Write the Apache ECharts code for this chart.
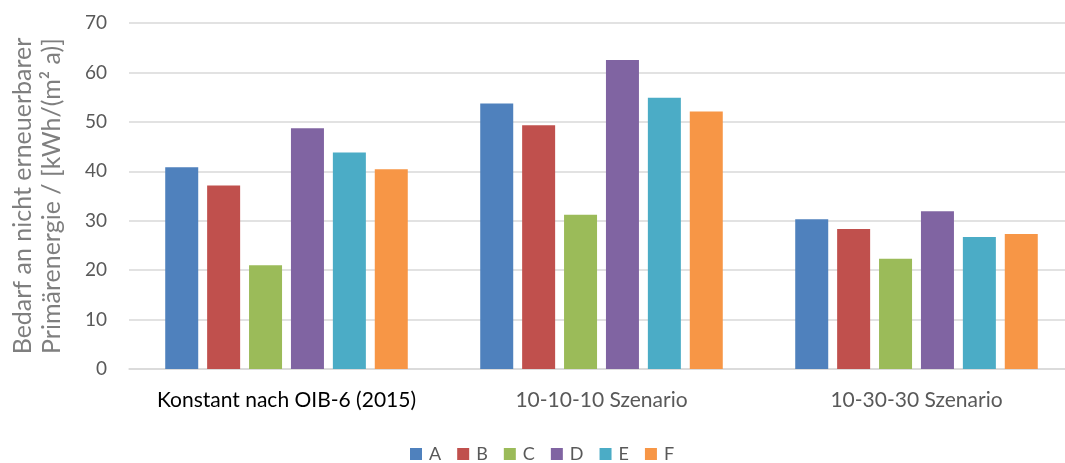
<!DOCTYPE html>
<html><head><meta charset="utf-8">
<script src="https://cdn.jsdelivr.net/npm/echarts@6/dist/echarts.min.js"></script>
<style>html,body{margin:0;padding:0;background:#fff;overflow:hidden}#c{width:1074px;height:463px}</style>
</head><body><div id="c"></div>
<script>
const categories = ["Konstant nach OIB-6 (2015)", "10-10-10 Szenario", "10-30-30 Szenario"];
const seriesNames = ["A", "B", "C", "D", "E", "F"];
const A = [40.8, 53.7, 30.3];
const B = [37.1, 49.3, 28.3];
const C = [21.0, 31.2, 22.3];
const D = [48.7, 62.5, 31.9];
const E = [43.8, 54.9, 26.7];
const F = [40.4, 52.1, 27.3];
const colors = ["#4F81BD", "#C0504D", "#9BBB59", "#8064A2", "#4BACC6", "#F79646"];
const values = [A, B, C, D, E, F];
const font = "Lato";

const chart = echarts.init(document.getElementById('c'), null, {renderer: 'canvas'});
chart.setOption({
  animation: false,
  color: colors,
  textStyle: {fontFamily: font},
  grid: {left: 123, right: 0, top: 23, bottom: 94, containLabel: false},
  legend: {
    top: 444, left: 410, padding: 0,
    itemWidth: 12, itemHeight: 12, itemGap: 16,
    icon: 'rect',
    textStyle: {color: '#595959', fontSize: 18, lineHeight: 20, fontFamily: font, padding: [0,0,0,2]},
    data: seriesNames
  },
  xAxis: {
    type: 'category', data: categories,
    axisTick: {show: false},
    axisLine: {lineStyle: {color: '#d9d9d9', width: 1.5}},
    axisLabel: {
      interval: 0,
      fontSize: 21, margin: 21, fontFamily: font,
      color: function (v, i) { return i === 0 ? '#000000' : '#595959'; }
    }
  },
  yAxis: {
    type: 'value', min: 0, max: 70, interval: 10,
    name: 'Bedarf an nicht erneuerbarer\nPrimärenergie / [kWh/(m² a)]',
    nameLocation: 'middle', nameRotate: 90, nameGap: 63,
    nameTextStyle: {color: '#7f7f7f', fontSize: 25, lineHeight: 29, fontFamily: font},
    axisLine: {show: false}, axisTick: {show: false},
    axisLabel: {color: '#595959', fontSize: 19, margin: 22, fontFamily: font},
    splitLine: {lineStyle: {color: '#d9d9d9', width: 1.5}}
  },
  series: seriesNames.map((n, k) => ({
    name: n, type: 'bar', data: values[k],
    barGap: '27%', barCategoryGap: '23%',
    itemStyle: {color: colors[k]}
  }))
});
</script></body></html>
